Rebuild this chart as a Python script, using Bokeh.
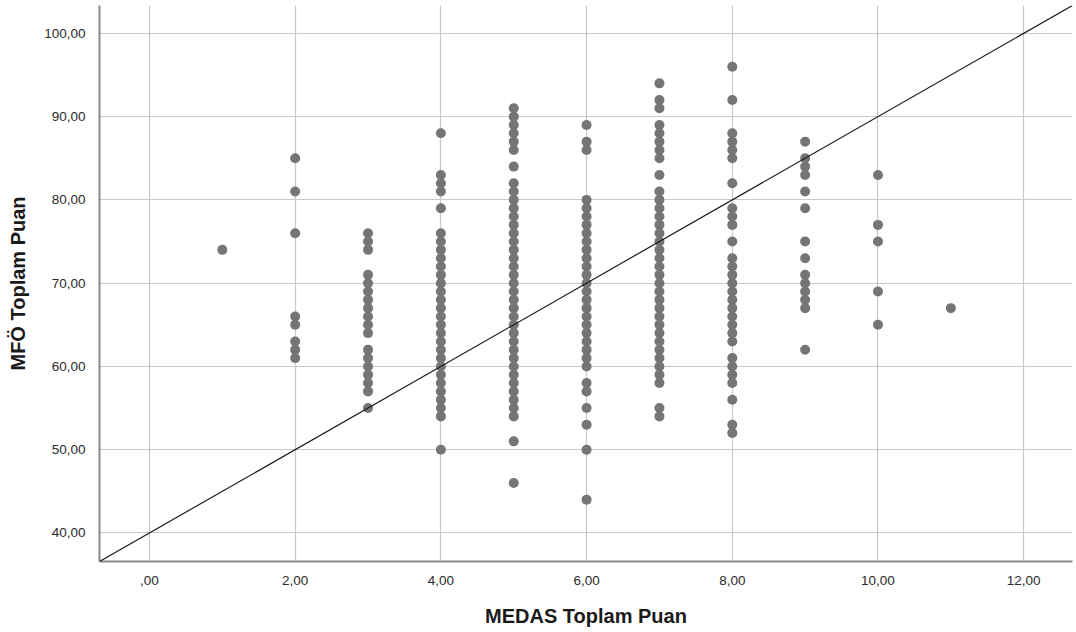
from bokeh.plotting import figure
from bokeh.models import FixedTicker, Slope, ColumnDataSource, Range1d
from bokeh.embed import file_html
from bokeh.resources import INLINE

# ---- data ----
medas_levels = [1, 2, 3, 4, 5, 6, 7, 8, 9, 10, 11]

mfo_at_1 = [74]
mfo_at_2 = [85, 81, 76, 66, 65, 63, 62, 61]
mfo_at_3 = [76, 75, 74, 71, 70, 69, 68, 67, 66, 65, 64, 62, 61, 60, 59, 58, 57, 55]
mfo_at_4 = [88, 83, 82, 81, 79, 76, 75, 74, 73, 72, 71, 70, 69, 68, 67, 66, 65,
            64, 63, 62, 61, 60, 59, 58, 57, 56, 55, 54, 50]
mfo_at_5 = [91, 90, 89, 88, 87, 86, 84, 82, 81, 80, 79, 78, 77, 76, 75, 74, 73,
            72, 71, 70, 69, 68, 67, 66, 65, 64, 63, 62, 61, 60, 59, 58, 57, 56,
            55, 54, 51, 46]
mfo_at_6 = [89, 87, 86, 80, 79, 78, 77, 76, 75, 74, 73, 72, 71, 70, 69, 68, 67,
            66, 65, 64, 63, 62, 61, 60, 58, 57, 55, 53, 50, 44]
mfo_at_7 = [94, 92, 91, 89, 88, 87, 86, 85, 83, 81, 80, 79, 78, 77, 76, 75, 74,
            73, 72, 71, 70, 69, 68, 67, 66, 65, 64, 63, 62, 61, 60, 59, 58, 55, 54]
mfo_at_8 = [96, 92, 88, 87, 86, 85, 82, 79, 78, 77, 75, 73, 72, 71, 70, 69, 68,
            67, 66, 65, 64, 63, 61, 60, 59, 58, 56, 53, 52]
mfo_at_9 = [87, 85, 84, 83, 81, 79, 75, 73, 71, 70, 69, 68, 67, 62]
mfo_at_10 = [83, 77, 75, 69, 65]
mfo_at_11 = [67]

x_ticks = [0, 2, 4, 6, 8, 10, 12]
x_tick_labels = [",00", "2,00", "4,00", "6,00", "8,00", "10,00", "12,00"]
y_ticks = [40, 50, 60, 70, 80, 90, 100]
y_tick_labels = ["40,00", "50,00", "60,00", "70,00", "80,00", "90,00", "100,00"]

ref_line_intercept = 40
ref_line_slope = 5

x_title = "MEDAS Toplam Puan"
y_title = "MFÖ Toplam Puan"

# ---- build table ----
columns = [mfo_at_1, mfo_at_2, mfo_at_3, mfo_at_4, mfo_at_5, mfo_at_6,
           mfo_at_7, mfo_at_8, mfo_at_9, mfo_at_10, mfo_at_11]
xs, ys = [], []
for lvl, vals in zip(medas_levels, columns):
    for v in vals:
        xs.append(lvl)
        ys.append(v)
src = ColumnDataSource(dict(x=xs, y=ys))

FONT = "Liberation Sans"

p = figure(width=1076, height=632, output_backend="svg", toolbar_location=None,
           x_range=Range1d(-0.686, 12.67), y_range=Range1d(36.57, 103.35),
           min_border_left=99, min_border_right=4, min_border_top=5,
           min_border_bottom=71)
p.outline_line_color = None
p.background_fill_color = "white"
p.border_fill_color = "white"

p.scatter("x", "y", source=src, size=10, fill_color="#757575",
          line_color=None, fill_alpha=1.0)

p.add_layout(Slope(gradient=ref_line_slope, y_intercept=ref_line_intercept,
                   line_color="#1a1a1a", line_width=1.2))

# grids
for g in (p.xgrid, p.ygrid):
    g.grid_line_color = "#c9c9c9"
    g.grid_line_width = 1.2
p.xgrid.ticker = FixedTicker(ticks=x_ticks)
p.ygrid.ticker = FixedTicker(ticks=y_ticks)

# axes
xa = p.xaxis[0]
ya = p.yaxis[0]
xa.ticker = FixedTicker(ticks=x_ticks)
ya.ticker = FixedTicker(ticks=y_ticks)
xa.major_label_overrides = {t: l for t, l in zip(x_ticks, x_tick_labels)}
ya.major_label_overrides = {t: l for t, l in zip(y_ticks, y_tick_labels)}
for a in (xa, ya):
    a.axis_line_color = "#8a8a8a"
    a.axis_line_width = 2
    a.major_tick_line_color = None
    a.minor_tick_line_color = None
    a.major_label_text_font = FONT
    a.major_label_text_font_size = "13.5px"
    a.major_label_text_color = "#2b2b2b"
    a.major_label_standoff = 8
    a.axis_label_text_font = FONT
    a.axis_label_text_font_size = "20px"
    a.axis_label_text_font_style = "bold"
    a.axis_label_text_color = "#1a1a1a"
xa.axis_label = x_title
ya.axis_label = y_title
xa.axis_label_standoff = 17
ya.axis_label_standoff = 12

open("out.html", "w").write(file_html(p, INLINE))
